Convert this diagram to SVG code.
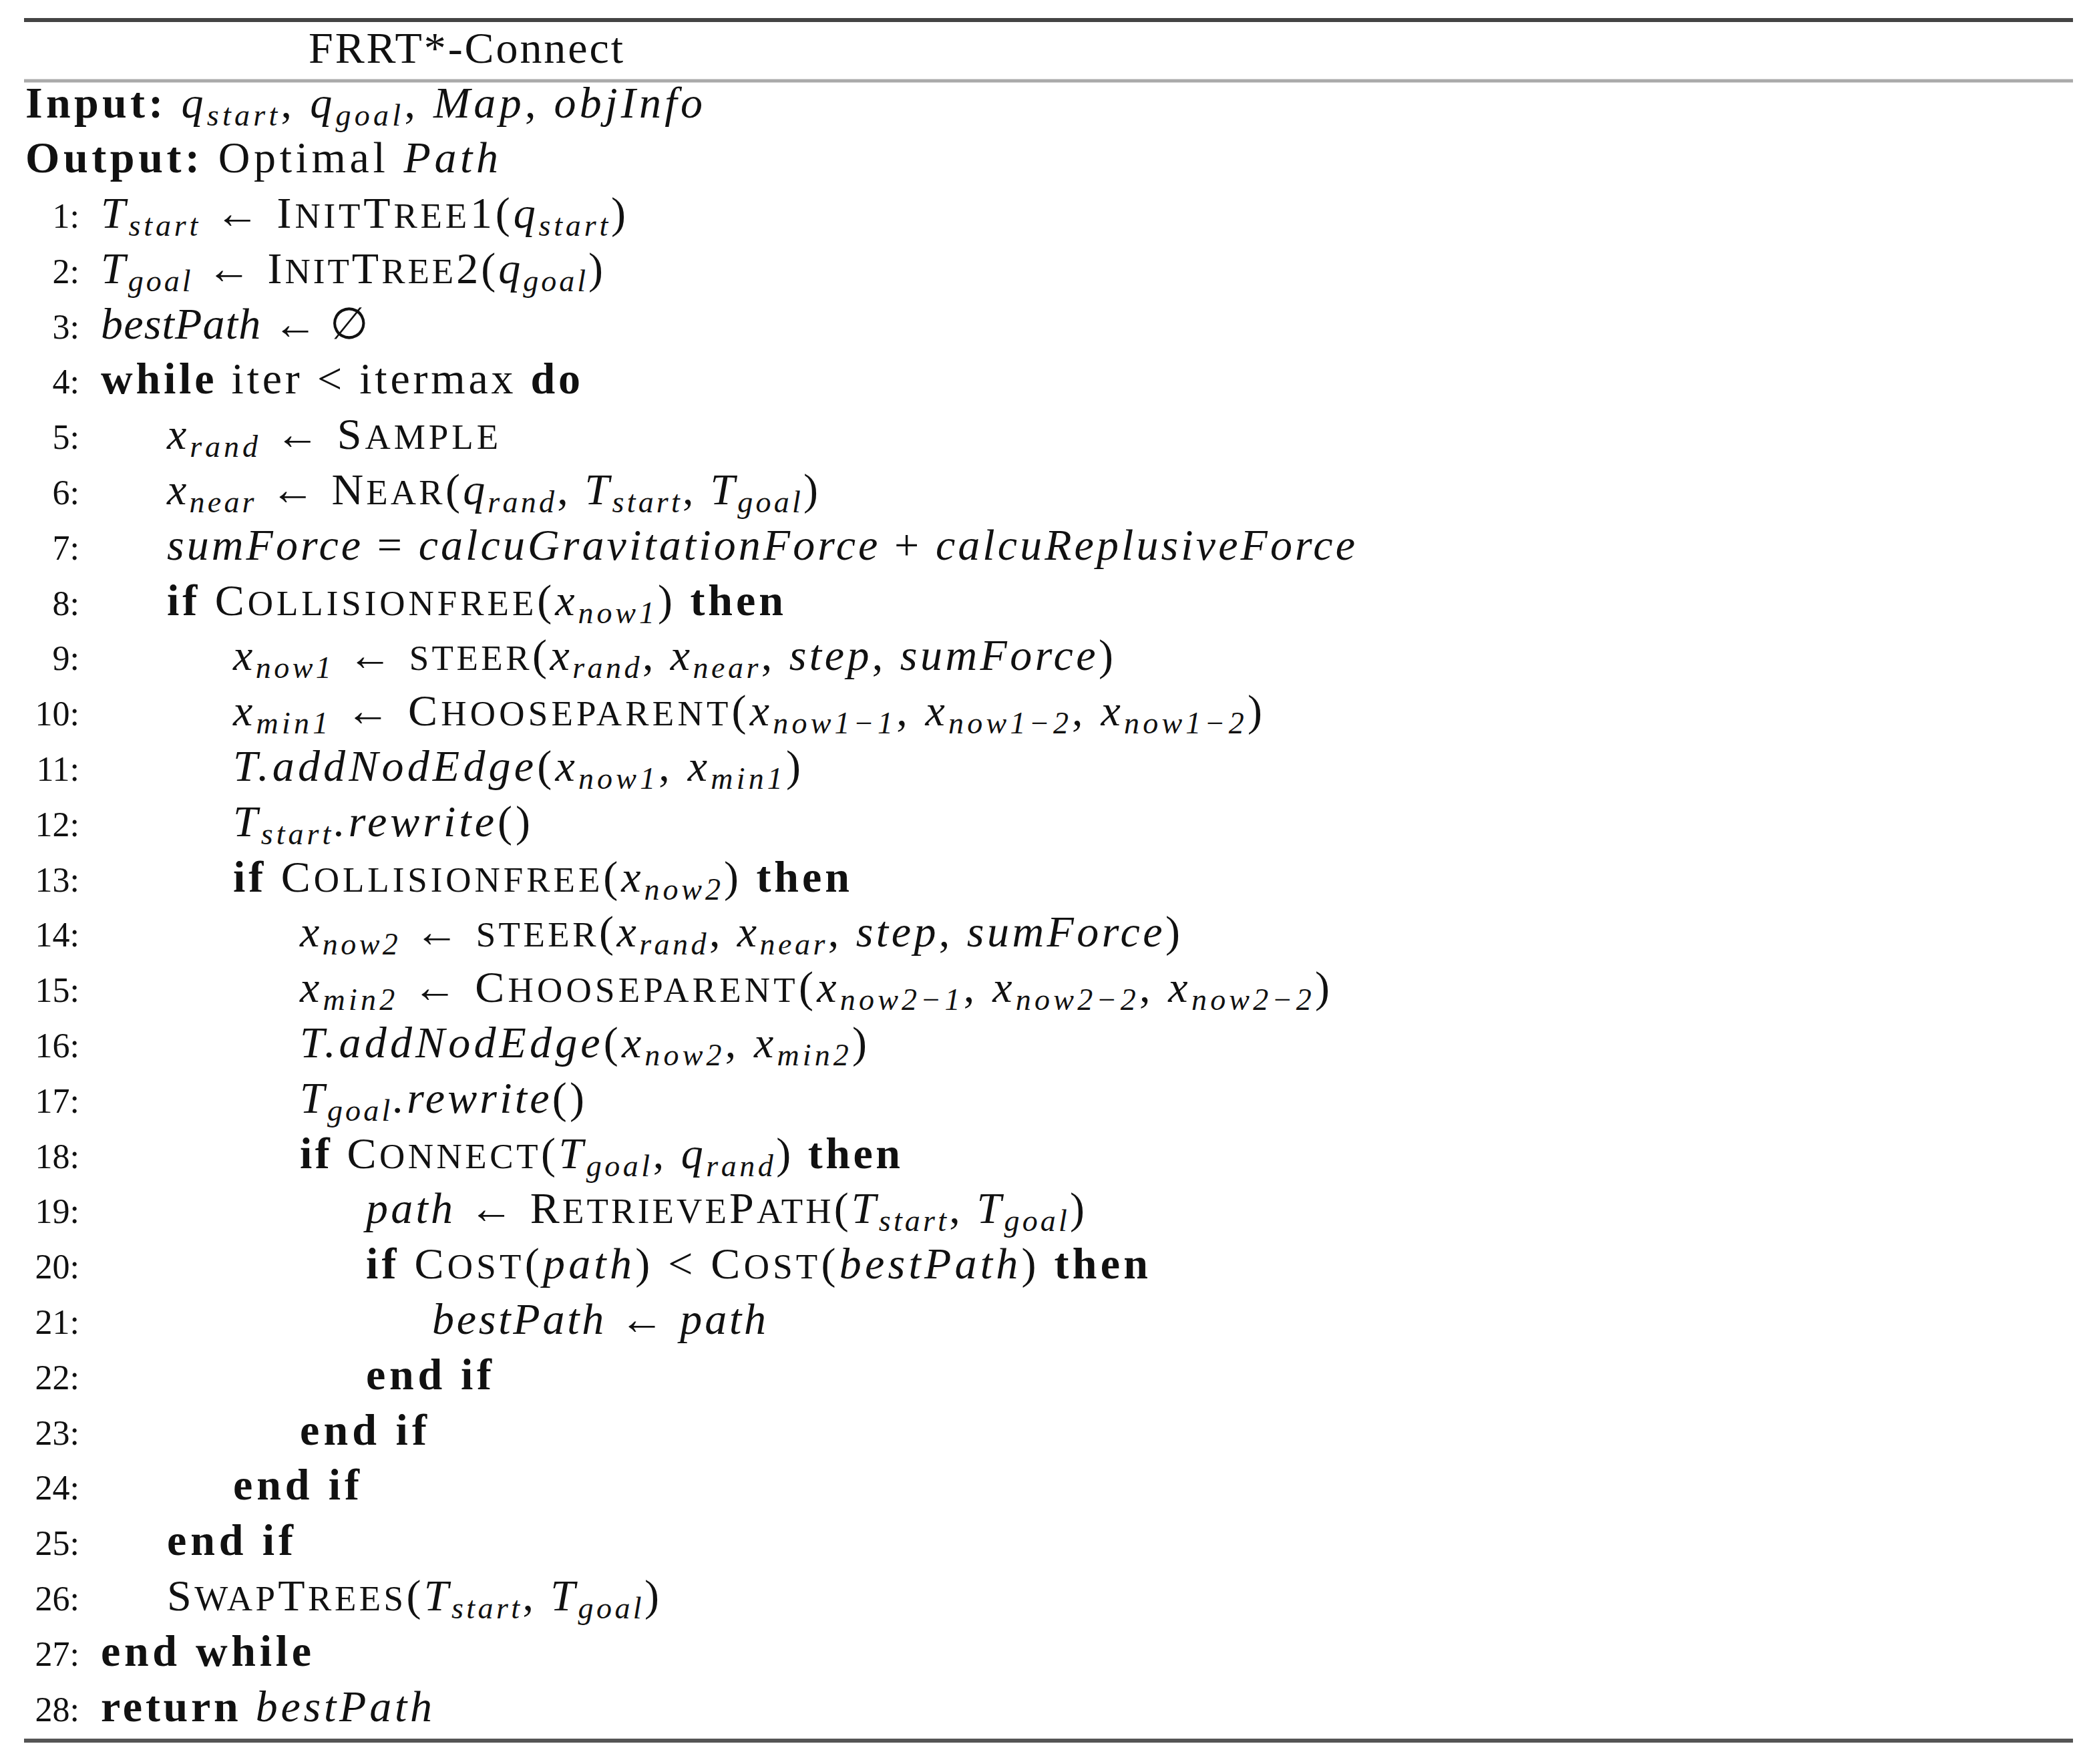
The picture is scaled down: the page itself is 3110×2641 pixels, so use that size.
<svg xmlns="http://www.w3.org/2000/svg" width="3110" height="2641" viewBox="0 0 3110 2641">
<style>
text{font-family:"Liberation Serif","DejaVu Serif",serif;font-size:66px;fill:#111}
.n{font-size:52px}
.i{font-style:italic}
.b{font-weight:bold}
.s{font-size:46px;font-style:italic}
.sc{font-size:53px}
</style>
<rect width="3110" height="2641" fill="#fff"/>
<g id="rules">
<line x1="36" y1="30" x2="3104" y2="30" stroke="#444" stroke-width="6"/>
<line x1="36" y1="121" x2="3104" y2="121" stroke="#aaa" stroke-width="5"/>
<line x1="36" y1="2606" x2="3104" y2="2606" stroke="#555" stroke-width="6"/>
</g>
<g id="title"><text x="462" y="94" textLength="471">FRRT*-Connect</text></g>
<g id="io">
<text x="38" y="176" textLength="1014"><tspan class="b">Input:</tspan> <tspan class="i">q</tspan><tspan class="s" dy="12">start</tspan><tspan dy="-12">, </tspan><tspan class="i">q</tspan><tspan class="s" dy="12">goal</tspan><tspan dy="-12">, </tspan><tspan class="i">Map</tspan>, <tspan class="i">objInfo</tspan></text>
<text x="38" y="258" textLength="708"><tspan class="b">Output:</tspan> Optimal <tspan class="i">Path</tspan></text>
</g>
<g id="numbers" text-anchor="end">
<text class="n" x="119" y="341">1:</text><text class="n" x="119" y="424">2:</text><text class="n" x="119" y="507">3:</text><text class="n" x="119" y="589">4:</text><text class="n" x="119" y="672">5:</text><text class="n" x="119" y="755">6:</text><text class="n" x="119" y="838">7:</text><text class="n" x="119" y="921">8:</text><text class="n" x="119" y="1003">9:</text><text class="n" x="119" y="1086">10:</text><text class="n" x="119" y="1169">11:</text><text class="n" x="119" y="1252">12:</text><text class="n" x="119" y="1335">13:</text><text class="n" x="119" y="1417">14:</text><text class="n" x="119" y="1500">15:</text><text class="n" x="119" y="1583">16:</text><text class="n" x="119" y="1666">17:</text><text class="n" x="119" y="1749">18:</text><text class="n" x="119" y="1831">19:</text><text class="n" x="119" y="1914">20:</text><text class="n" x="119" y="1997">21:</text><text class="n" x="119" y="2080">22:</text><text class="n" x="119" y="2163">23:</text><text class="n" x="119" y="2245">24:</text><text class="n" x="119" y="2328">25:</text><text class="n" x="119" y="2411">26:</text><text class="n" x="119" y="2494">27:</text><text class="n" x="119" y="2577">28:</text>
</g>
<g id="lines">
<text x="151" y="341" textLength="786"><tspan class="i">T</tspan><tspan class="s" dy="12">start</tspan><tspan dy="-12"> ← I</tspan><tspan class="sc">NIT</tspan>T<tspan class="sc">REE</tspan>1(<tspan class="i">q</tspan><tspan class="s" dy="12">start</tspan><tspan dy="-12">)</tspan></text>
<text x="151" y="424" textLength="752"><tspan class="i">T</tspan><tspan class="s" dy="12">goal</tspan><tspan dy="-12"> ← I</tspan><tspan class="sc">NIT</tspan>T<tspan class="sc">REE</tspan>2(<tspan class="i">q</tspan><tspan class="s" dy="12">goal</tspan><tspan dy="-12">)</tspan></text>
<text x="151" y="507" textLength="401"><tspan class="i">bestPath</tspan> ← ∅</text>
<text x="151" y="589" textLength="718"><tspan class="b">while</tspan> iter &lt; itermax <tspan class="b">do</tspan></text>
<text x="250" y="672" textLength="496"><tspan class="i">x</tspan><tspan class="s" dy="12">rand</tspan><tspan dy="-12"> ← S</tspan><tspan class="sc">AMPLE</tspan></text>
<text x="250" y="755" textLength="975"><tspan class="i">x</tspan><tspan class="s" dy="12">near</tspan><tspan dy="-12"> ← N</tspan><tspan class="sc">EAR</tspan>(<tspan class="i">q</tspan><tspan class="s" dy="12">rand</tspan><tspan dy="-12">, </tspan><tspan class="i">T</tspan><tspan class="s" dy="12">start</tspan><tspan dy="-12">, </tspan><tspan class="i">T</tspan><tspan class="s" dy="12">goal</tspan><tspan dy="-12">)</tspan></text>
<text x="250" y="838" textLength="1779"><tspan class="i">sumForce</tspan> = <tspan class="i">calcuGravitationForce</tspan> + <tspan class="i">calcuReplusiveForce</tspan></text>
<text x="250" y="921" textLength="923"><tspan class="b">if</tspan> C<tspan class="sc">OLLISIONFREE</tspan>(<tspan class="i">x</tspan><tspan class="s" dy="12">now1</tspan><tspan dy="-12">) </tspan><tspan class="b">then</tspan></text>
<text x="349" y="1003" textLength="1318"><tspan class="i">x</tspan><tspan class="s" dy="12">now1</tspan><tspan dy="-12"> ← </tspan><tspan class="sc">STEER</tspan>(<tspan class="i">x</tspan><tspan class="s" dy="12">rand</tspan><tspan dy="-12">, </tspan><tspan class="i">x</tspan><tspan class="s" dy="12">near</tspan><tspan dy="-12">, </tspan><tspan class="i">step</tspan>, <tspan class="i">sumForce</tspan>)</text>
<text x="349" y="1086" textLength="1541"><tspan class="i">x</tspan><tspan class="s" dy="12">min1</tspan><tspan dy="-12"> ← C</tspan><tspan class="sc">HOOSEPARENT</tspan>(<tspan class="i">x</tspan><tspan class="s" dy="12">now1−1</tspan><tspan dy="-12">, </tspan><tspan class="i">x</tspan><tspan class="s" dy="12">now1−2</tspan><tspan dy="-12">, </tspan><tspan class="i">x</tspan><tspan class="s" dy="12">now1−2</tspan><tspan dy="-12">)</tspan></text>
<text x="349" y="1169" textLength="850"><tspan class="i">T.addNodEdge</tspan>(<tspan class="i">x</tspan><tspan class="s" dy="12">now1</tspan><tspan dy="-12">, </tspan><tspan class="i">x</tspan><tspan class="s" dy="12">min1</tspan><tspan dy="-12">)</tspan></text>
<text x="349" y="1252" textLength="445"><tspan class="i">T</tspan><tspan class="s" dy="12">start</tspan><tspan class="i" dy="-12">.rewrite</tspan>()</text>
<text x="349" y="1335" textLength="923"><tspan class="b">if</tspan> C<tspan class="sc">OLLISIONFREE</tspan>(<tspan class="i">x</tspan><tspan class="s" dy="12">now2</tspan><tspan dy="-12">) </tspan><tspan class="b">then</tspan></text>
<text x="449" y="1417" textLength="1318"><tspan class="i">x</tspan><tspan class="s" dy="12">now2</tspan><tspan dy="-12"> ← </tspan><tspan class="sc">STEER</tspan>(<tspan class="i">x</tspan><tspan class="s" dy="12">rand</tspan><tspan dy="-12">, </tspan><tspan class="i">x</tspan><tspan class="s" dy="12">near</tspan><tspan dy="-12">, </tspan><tspan class="i">step</tspan>, <tspan class="i">sumForce</tspan>)</text>
<text x="449" y="1500" textLength="1542"><tspan class="i">x</tspan><tspan class="s" dy="12">min2</tspan><tspan dy="-12"> ← C</tspan><tspan class="sc">HOOSEPARENT</tspan>(<tspan class="i">x</tspan><tspan class="s" dy="12">now2−1</tspan><tspan dy="-12">, </tspan><tspan class="i">x</tspan><tspan class="s" dy="12">now2−2</tspan><tspan dy="-12">, </tspan><tspan class="i">x</tspan><tspan class="s" dy="12">now2−2</tspan><tspan dy="-12">)</tspan></text>
<text x="449" y="1583" textLength="849"><tspan class="i">T.addNodEdge</tspan>(<tspan class="i">x</tspan><tspan class="s" dy="12">now2</tspan><tspan dy="-12">, </tspan><tspan class="i">x</tspan><tspan class="s" dy="12">min2</tspan><tspan dy="-12">)</tspan></text>
<text x="449" y="1666" textLength="426"><tspan class="i">T</tspan><tspan class="s" dy="12">goal</tspan><tspan class="i" dy="-12">.rewrite</tspan>()</text>
<text x="449" y="1749" textLength="899"><tspan class="b">if</tspan> C<tspan class="sc">ONNECT</tspan>(<tspan class="i">T</tspan><tspan class="s" dy="12">goal</tspan><tspan dy="-12">, </tspan><tspan class="i">q</tspan><tspan class="s" dy="12">rand</tspan><tspan dy="-12">) </tspan><tspan class="b">then</tspan></text>
<text x="548" y="1831" textLength="1076"><tspan class="i">path</tspan> ← R<tspan class="sc">ETRIEVE</tspan>P<tspan class="sc">ATH</tspan>(<tspan class="i">T</tspan><tspan class="s" dy="12">start</tspan><tspan dy="-12">, </tspan><tspan class="i">T</tspan><tspan class="s" dy="12">goal</tspan><tspan dy="-12">)</tspan></text>
<text x="548" y="1914" textLength="1171"><tspan class="b">if</tspan> C<tspan class="sc">OST</tspan>(<tspan class="i">path</tspan>) &lt; C<tspan class="sc">OST</tspan>(<tspan class="i">bestPath</tspan>) <tspan class="b">then</tspan></text>
<text x="647" y="1997" textLength="500"><tspan class="i">bestPath</tspan> ← <tspan class="i">path</tspan></text>
<text x="548" y="2080" class="b" textLength="188">end if</text>
<text x="449" y="2163" class="b" textLength="190">end if</text>
<text x="349" y="2245" class="b" textLength="189">end if</text>
<text x="250" y="2328" class="b" textLength="189">end if</text>
<text x="250" y="2411" textLength="737">S<tspan class="sc">WAP</tspan>T<tspan class="sc">REES</tspan>(<tspan class="i">T</tspan><tspan class="s" dy="12">start</tspan><tspan dy="-12">, </tspan><tspan class="i">T</tspan><tspan class="s" dy="12">goal</tspan><tspan dy="-12">)</tspan></text>
<text x="151" y="2494" class="b" textLength="315">end while</text>
<text x="151" y="2577" textLength="496"><tspan class="b">return</tspan> <tspan class="i">bestPath</tspan></text>
</g>
</svg>
